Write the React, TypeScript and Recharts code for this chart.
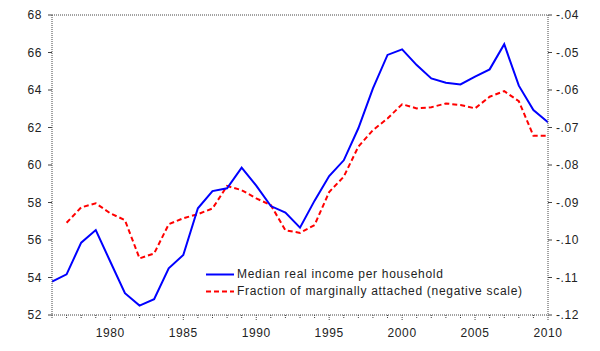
import React from 'react';
import { LineChart, Line, XAxis, YAxis, ReferenceLine, Legend } from 'recharts';

const years = [1976,1977,1978,1979,1980,1981,1982,1983,1984,1985,1986,1987,1988,1989,1990,1991,1992,1993,1994,1995,1996,1997,1998,1999,2000,2001,2002,2003,2004,2005,2006,2007,2008,2009,2010];

const medianIncome = [53.78,54.17,55.86,56.53,54.84,53.16,52.50,52.84,54.49,55.20,57.69,58.61,58.76,59.86,58.90,57.81,57.46,56.66,58.10,59.41,60.25,61.96,64.09,65.87,66.17,65.33,64.62,64.39,64.30,64.71,65.10,66.44,64.23,62.93,62.28];

const marginallyAttached: (number | null)[] = [null,-0.0954,-0.0913,-0.0902,-0.0929,-0.0947,-0.1049,-0.1036,-0.0958,-0.0942,-0.0931,-0.0916,-0.0856,-0.0867,-0.0889,-0.0907,-0.0974,-0.0981,-0.0960,-0.0872,-0.0831,-0.0751,-0.0707,-0.0676,-0.0638,-0.0649,-0.0646,-0.0636,-0.0640,-0.0649,-0.0618,-0.0603,-0.0630,-0.0722,-0.0722];

const leftTicks = [52,54,56,58,60,62,64,66,68];
const rightTicks = [-0.12,-0.11,-0.10,-0.09,-0.08,-0.07,-0.06,-0.05,-0.04];
const xTicks = years;

const seriesNames = ['Median real income per household', 'Fraction of marginally attached (negative scale)'];

const data = years.map((y, i) => ({ year: y, income: medianIncome[i], frac: marginallyAttached[i] }));

const FONT = '"Liberation Sans", Arial, sans-serif';
const AXIS = '#444';
const LS = 0.6;

const XTick = (props: any) => {
  const { x, y, payload } = props;
  const yr = payload.value as number;
  const major = yr % 5 === 0;
  return (
    <g>
      <line x1={x} x2={x} y1={y} y2={y + (major ? 6 : 4)} stroke={AXIS} strokeDasharray="1 1" />
      {major && (
        <text x={x} y={y + 22} textAnchor="middle" fill="#222" fontSize={12} fontFamily={FONT} letterSpacing={LS}>{yr}</text>
      )}
    </g>
  );
};

const fmtRight = (v: number) => {
  const s = Math.abs(v).toFixed(2).replace(/^0/, '');
  return (v < 0 ? '-' : '') + s;
};

const LegendContent = () => (
  <div style={{ fontFamily: FONT, fontSize: 12, color: '#222', lineHeight: '17px', letterSpacing: '0.7px' }}>
    <div style={{ display: 'flex', alignItems: 'center', height: 17 }}>
      <svg width={31} height={17} style={{ display: 'block' }}>
        <line x1={0} x2={28} y1={8.5} y2={8.5} stroke="#0000FF" strokeWidth={2} />
      </svg>
      <span style={{ whiteSpace: 'nowrap' }}>{seriesNames[0]}</span>
    </div>
    <div style={{ display: 'flex', alignItems: 'center', height: 17 }}>
      <svg width={31} height={17} style={{ display: 'block' }}>
        <line x1={0} x2={28} y1={8.5} y2={8.5} stroke="#FF0000" strokeWidth={2} strokeDasharray="5 3" />
      </svg>
      <span style={{ whiteSpace: 'nowrap' }}>{seriesNames[1]}</span>
    </div>
  </div>
);

export default function App() {
  return (
    <div style={{ position: 'absolute', left: 0, top: 0, width: 600, height: 351, background: '#fff' }}>
      <LineChart width={600} height={351} data={data} margin={{ top: 15, right: 10, bottom: 0, left: 10 }}>
        <XAxis
          dataKey="year"
          type="number"
          domain={[1976, 2010]}
          ticks={xTicks}
          interval={0}
          height={36}
          tickSize={0}
          tickMargin={0}
          tickLine={false}
          axisLine={{ stroke: AXIS, strokeDasharray: '1 1' }}
          tick={<XTick />}
          allowDataOverflow
        />
        <YAxis
          yAxisId="left"
          orientation="left"
          domain={[52, 68]}
          ticks={leftTicks}
          interval={0}
          width={42}
          tickSize={4}
          tickMargin={6}
          axisLine={{ stroke: AXIS, strokeDasharray: '1 1' }}
          tickLine={{ stroke: AXIS }}
          tick={{ fill: '#222', fontSize: 12, fontFamily: FONT, letterSpacing: LS }}
          allowDataOverflow
        />
        <YAxis
          yAxisId="right"
          orientation="right"
          domain={[-0.12, -0.04]}
          ticks={rightTicks}
          interval={0}
          width={42}
          tickSize={4}
          tickMargin={4}
          tickFormatter={fmtRight}
          axisLine={{ stroke: AXIS, strokeDasharray: '1 1' }}
          tickLine={{ stroke: AXIS }}
          tick={{ fill: '#222', fontSize: 12, fontFamily: FONT, textAnchor: 'start', letterSpacing: LS }}
          allowDataOverflow
        />
        <ReferenceLine yAxisId="left" y={68} stroke={AXIS} strokeDasharray="1 1" />
        <Line yAxisId="right" type="linear" dataKey="frac" stroke="#FF0000" strokeWidth={2} strokeDasharray="5 3" dot={false} connectNulls={false} isAnimationActive={false} />
        <Line yAxisId="left" type="linear" dataKey="income" stroke="#0000FF" strokeWidth={2} dot={false} isAnimationActive={false} />
        <Legend
          layout="vertical"
          align="center"
          verticalAlign="middle"
          content={<LegendContent />}
          wrapperStyle={{ left: 206, top: 266, width: 'auto', height: 'auto' }}
        />
      </LineChart>
    </div>
  );
}
